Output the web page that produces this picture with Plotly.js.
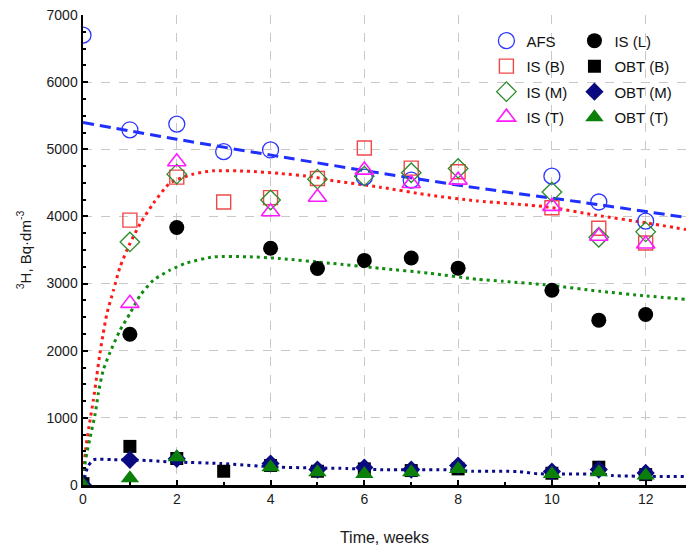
<!DOCTYPE html>
<html>
<head>
<meta charset="utf-8">
<script src="https://cdn.plot.ly/plotly-3.0.1.min.js"></script>
<style>html,body{margin:0;padding:0;background:#fff;}#chart{width:686px;height:551px;}</style>
</head>
<body>
<div id="chart"></div>
<script>
// measured points
const afsX = [0, 1, 2, 3, 4, 6, 7, 10, 11, 12];
const afsY = [6700, 5290, 5375, 4965, 4990, 4585, 4540, 4600, 4215, 3930];

const islX = [1, 2, 4, 5, 6, 7, 8, 10, 11, 12];
const islY = [2245, 3835, 3525, 3225, 3345, 3380, 3230, 2900, 2455, 2540];

const isbX = [1, 2, 3, 4, 5, 6, 7, 8, 10, 11, 12];
const isbY = [3945, 4585, 4215, 4280, 4565, 5020, 4720, 4665, 4130, 3825, 3605];

const ismX = [1, 2, 4, 5, 6, 7, 8, 10, 11, 12];
const ismY = [3620, 4630, 4245, 4555, 4600, 4650, 4715, 4365, 3690, 3770];

const istX = [1, 2, 4, 5, 6, 7, 8, 10, 11, 12];
const istY = [2705, 4815, 4070, 4285, 4690, 4490, 4540, 4150, 3705, 3590];

const obtbX = [0, 1, 2, 3, 4, 5, 6, 7, 8, 10, 11, 12];
const obtbY = [20, 575, 395, 205, 290, 205, 240, 215, 240, 175, 265, 155];

const obtmX = [0, 1, 2, 4, 5, 6, 7, 8, 10, 11, 12];
const obtmY = [0, 375, 390, 320, 230, 260, 230, 290, 200, 230, 180];

const obttX = [0, 1, 2, 4, 5, 6, 7, 8, 10, 11, 12];
const obttY = [0, 100, 415, 265, 190, 165, 190, 240, 165, 190, 140];

// fitted curves
const fitAfsX = [0, 2, 4.2, 6.3, 8.4, 10.7, 12.86];
const fitAfsY = [5400, 5150, 4890, 4650, 4425, 4205, 3985];

const fitIsbX = [0, 0.02, 0.06, 0.13, 0.22, 0.29, 0.36, 0.43, 0.51, 0.65, 0.79, 1.0, 1.22, 1.5, 1.85, 2.35, 2.77, 3.49, 4.2, 4.9, 5.27, 6.33, 7.4, 8.4, 9.89, 10.95, 12.02, 12.86];
const fitIsbY = [0, 250, 550, 880, 1260, 1607, 1956, 2254, 2553, 2900, 3247, 3596, 3894, 4193, 4495, 4630, 4679, 4674, 4640, 4589, 4540, 4436, 4316, 4231, 4142, 4018, 3903, 3805];

const fitIslX = [0, 0.03, 0.08, 0.15, 0.26, 0.33, 0.43, 0.58, 0.79, 1.0, 1.22, 1.5, 1.85, 2.21, 2.78, 3.5, 4.2, 5.27, 6.33, 7.4, 8.4, 8.96, 9.96, 11.02, 12.02, 12.86];
const fitIslY = [0, 250, 470, 700, 1061, 1380, 1707, 1980, 2304, 2553, 2825, 3049, 3198, 3307, 3396, 3400, 3373, 3303, 3228, 3153, 3064, 3034, 2975, 2885, 2815, 2765];

const fitObtX = [0, 0.05, 0.1, 0.22, 0.65, 1.36, 1.71, 2.07, 2.92, 4.2, 5.63, 6.4, 7.9, 8.3, 9.3, 9.7, 11.1, 11.3, 12.86];
const fitObtY = [0, 150, 270, 375, 378, 365, 350, 340, 320, 265, 246, 228, 225, 205, 200, 168, 160, 140, 125];

const fnt = 'Liberation Sans, Arial, sans-serif';

function pts(name, x, y, symbol, color, size, lw, leg) {
  return {
    type: 'scatter', mode: 'markers', name: name, x: x, y: y, cliponaxis: true,
    legend: leg, legendgroup: name,
    marker: {symbol: symbol, color: color, size: size, line: {color: color, width: lw}}
  };
}
function fit(x, y, color, dash, width) {
  return {
    type: 'scatter', mode: 'lines', x: x, y: y, showlegend: false, hoverinfo: 'skip',
    line: {color: color, dash: dash, width: width, shape: 'spline', smoothing: 0.6}
  };
}

const data = [
  fit(fitAfsX, fitAfsY, '#1f2fff', '11px,6px', 3),
  fit(fitIsbX, fitIsbY, '#ff1a1a', '3px,4px', 3),
  fit(fitIslX, fitIslY, '#118c11', '3px,4px', 3),
  fit(fitObtX, fitObtY, '#0a0a8c', '3px,4px', 3),
  pts('AFS', afsX, afsY, 'circle-open', '#2b35ff', 16, 1.3, 'legend'),
  pts('IS (L)', islX, islY, 'circle', '#000000', 15, 0, 'legend2'),
  pts('IS (B)', isbX, isbY, 'square-open', '#f04848', 14, 1.4, 'legend'),
  pts('OBT (B)', obtbX, obtbY, 'square', '#000000', 13, 0, 'legend2'),
  pts('IS (M)', ismX, ismY, 'diamond-open', '#2a8a2a', 15, 1.3, 'legend'),
  pts('OBT (M)', obtmX, obtmY, 'diamond', '#0a0a80', 14, 0, 'legend2'),
  pts('IS (T)', istX, istY, 'triangle-up-open', '#ff1aff', 16, 1.6, 'legend'),
  pts('OBT (T)', obttX, obttY, 'triangle-up', '#0a800a', 16, 0, 'legend2')
];

const legBase = {
  y: 0.98, xanchor: 'left', yanchor: 'top', orientation: 'v',
  bgcolor: 'rgba(0,0,0,0)', borderwidth: 0,
  font: {family: fnt, size: 15, color: '#111'},
  itemwidth: 30, traceorder: 'grouped', tracegroupgap: 3
};

const layout = {
  width: 686, height: 551,
  margin: {l: 83, r: 0, t: 15, b: 66},
  paper_bgcolor: '#ffffff', plot_bgcolor: '#ffffff',
  font: {family: fnt, size: 14, color: '#1a1a1a'},
  showlegend: true,
  legend: Object.assign({}, legBase, {x: 0.669}),
  legend2: Object.assign({}, legBase, {x: 0.815}),
  xaxis: {
    range: [0, 12.86], tickmode: 'linear', tick0: 0, dtick: 2,
    ticks: 'inside', ticklen: 5, tickwidth: 2, tickcolor: '#000',
    minor: {dtick: 1, ticks: 'inside', ticklen: 3, tickwidth: 2, tickcolor: '#000', showgrid: false},
    showline: true, linecolor: '#000', linewidth: 2.5,
    showgrid: true, gridcolor: '#c8c8c8', griddash: 'dash', gridwidth: 1,
    zeroline: false, tickfont: {family: fnt, size: 14, color: '#1a1a1a'},
    title: {text: 'Time, weeks', font: {family: fnt, size: 16, color: '#1a1a1a'}, standoff: 26},
    automargin: false
  },
  yaxis: {
    range: [0, 7000], tickmode: 'linear', tick0: 0, dtick: 1000,
    ticks: 'inside', ticklen: 5, tickwidth: 2, tickcolor: '#000',
    minor: {dtick: 250, ticks: 'inside', ticklen: 3, tickwidth: 2, tickcolor: '#000', showgrid: false},
    showline: true, linecolor: '#000', linewidth: 2.5,
    showgrid: true, gridcolor: '#c8c8c8', griddash: 'dash', gridwidth: 1,
    zeroline: false, tickfont: {family: fnt, size: 14, color: '#1a1a1a'},
    title: {text: '<sup>3</sup>H, Bq·dm<sup>-3</sup>', font: {family: fnt, size: 15, color: '#1a1a1a'}, standoff: 12},
    automargin: false
  }
};

Plotly.newPlot('chart', data, layout, {displayModeBar: false, staticPlot: true});
</script>
</body>
</html>
